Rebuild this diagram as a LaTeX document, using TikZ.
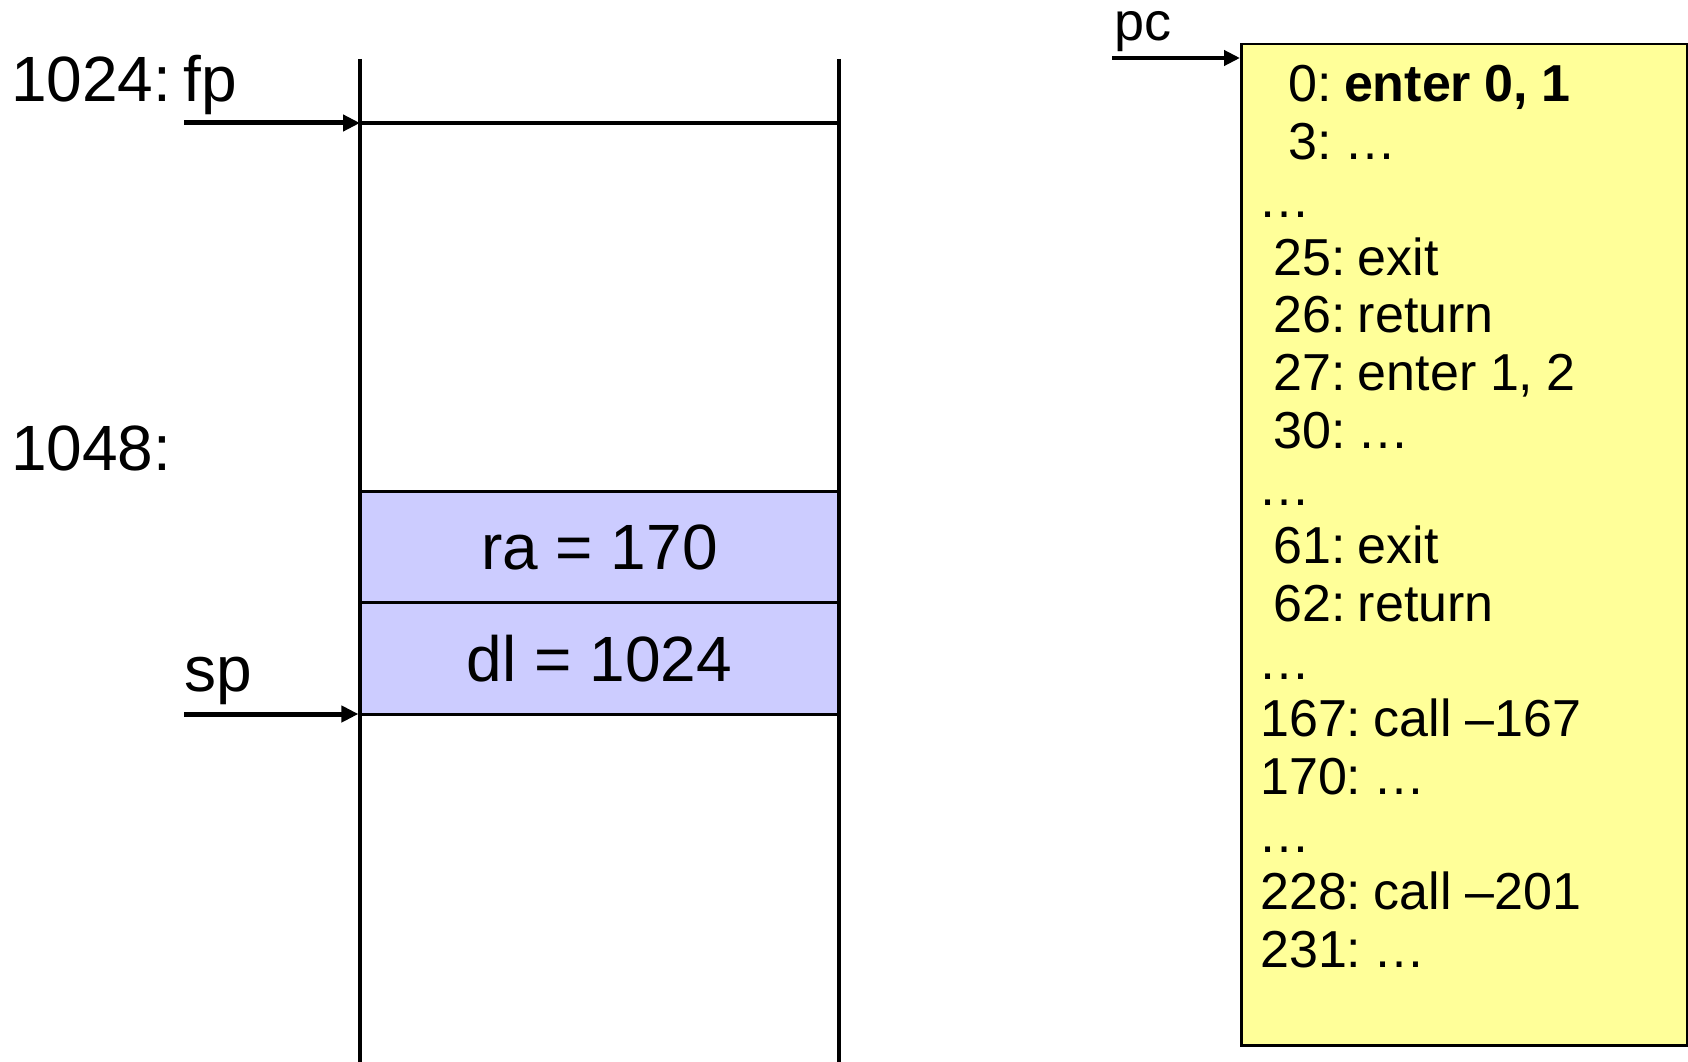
\documentclass[tikz,border=0pt]{standalone}
\usepackage{fontspec}
\setmainfont{Liberation Sans}
\usetikzlibrary{arrows.meta}
\definecolor{framefill}{HTML}{CCCCFF}
\definecolor{codefill}{HTML}{FFFF99}
\newcommand\myco{:\hspace{0.24em}}
\newcommand\narrowspaces{\setlength{\spaceskip}{0.26em}}
\tikzset{
  bigtxt/.style={font=\fontsize{64}{70}\selectfont, inner sep=0pt, anchor=base west},
  codetxt/.style={font=\fontsize{52}{58}\selectfont, execute at begin node=\narrowspaces, inner sep=0pt, anchor=base west},
  wall/.style={line width=3.2pt},
  ptr/.style={line width=5pt, -{Triangle[length=17pt,width=16pt]}},
  cell/.style={draw, line width=3.2pt, fill=framefill, minimum width=479pt, minimum height=111.5pt, inner sep=0pt, font=\fontsize{64}{70}\selectfont},
}
\begin{document}
\begin{tikzpicture}[x=1pt,y=-1pt]
\useasboundingbox (0,0) rectangle (1688,1062);
% stack walls
\coordinate (lt) at (360,59);
\coordinate (lb) at (360,1062);
\coordinate (rt) at (839,59);
\coordinate (rb) at (839,1062);
\draw[wall] (lt) -- (lb);
\draw[wall] (rt) -- (rb);
\coordinate (fpl) at (360,123);
\coordinate (fpr) at (839,123);
\draw[wall] (fpl) -- (fpr);
% cells
\node[cell] (ra) at (599.5,547) {ra = 170};
\node[cell] (dl) at (599.5,658.5) {dl = 1024};
% labels
\node[bigtxt] (l1024) at (11,102) {1024:\hspace{0.19em}fp};
\node[bigtxt] (l1048) at (11,470) {1048:};
\node[bigtxt] (lsp) at (184,691) {sp};
% pointers
\coordinate (fpstart) at (184,123);
\draw[ptr] (fpstart) -- (fpl);
\coordinate (spstart) at (184,714);
\draw[ptr] (spstart) -- (spstart -| dl.west);
% code box
\node[draw, line width=2.5pt, fill=codefill, minimum width=446pt, minimum height=1001pt, inner sep=0pt, anchor=north west] (prog) at (1240,43) {};
\node[bigtxt, font=\fontsize{54}{60}\selectfont] (lpc) at (1114,41) {pc};
\coordinate (pcstart) at (1112,58);
\draw[line width=4.5pt, -{Triangle[length=16pt,width=15pt]}] (pcstart) -- (pcstart -| prog.west);
% code lines
\node[codetxt] (c0) at (1288,102.0) {0\myco\textbf{enter 0, 1}};
\node[codetxt] (c1) at (1288,159.7) {3\myco…};
\node[codetxt] (c2) at (1258,217.4) {…};
\node[codetxt] (c3) at (1273,275.1) {25\myco exit};
\node[codetxt] (c4) at (1273,332.8) {26\myco return};
\node[codetxt] (c5) at (1273,390.5) {27\myco enter 1, 2};
\node[codetxt] (c6) at (1273,448.2) {30\myco…};
\node[codetxt] (c7) at (1258,505.9) {…};
\node[codetxt] (c8) at (1273,563.6) {61\myco exit};
\node[codetxt] (c9) at (1273,621.3) {62\myco return};
\node[codetxt] (c10) at (1258,679.0) {…};
\node[codetxt] (c11) at (1260,736.7) {167\myco call –167};
\node[codetxt] (c12) at (1260,794.4) {170\myco…};
\node[codetxt] (c13) at (1258,852.1) {…};
\node[codetxt] (c14) at (1260,909.8) {228\myco call –201};
\node[codetxt] (c15) at (1260,967.5) {231\myco…};
\end{tikzpicture}
\end{document}
